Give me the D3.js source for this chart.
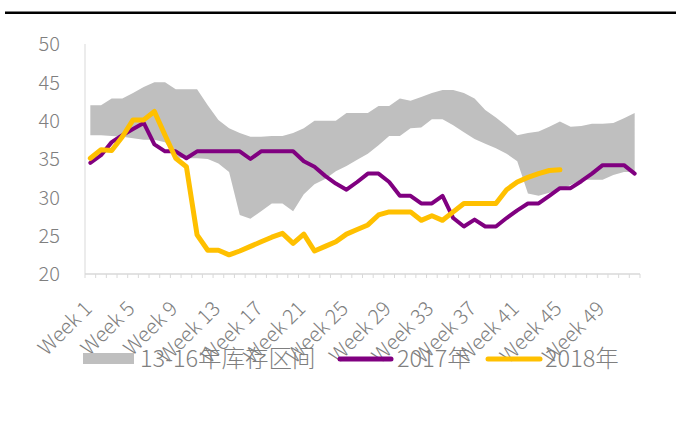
<!DOCTYPE html>
<html>
<head>
<meta charset="utf-8">
<script src="https://cdn.jsdelivr.net/npm/d3@7"></script>
<style>
  html, body { margin: 0; padding: 0; background: #fff; }
  svg { display: block; }
  text { font-family: "Noto Sans CJK SC", "Noto Sans", sans-serif; fill: #7f7f7f; font-weight: 300; }
</style>
</head>
<body>
<svg id="chart" width="676" height="422"></svg>
<script>
const weeks = ["Week 1","Week 2","Week 3","Week 4","Week 5","Week 6","Week 7","Week 8","Week 9","Week 10",
  "Week 11","Week 12","Week 13","Week 14","Week 15","Week 16","Week 17","Week 18","Week 19","Week 20",
  "Week 21","Week 22","Week 23","Week 24","Week 25","Week 26","Week 27","Week 28","Week 29","Week 30",
  "Week 31","Week 32","Week 33","Week 34","Week 35","Week 36","Week 37","Week 38","Week 39","Week 40",
  "Week 41","Week 42","Week 43","Week 44","Week 45","Week 46","Week 47","Week 48","Week 49","Week 50",
  "Week 51","Week 52"];
const xTickLabels = ["Week 1","Week 5","Week 9","Week 13","Week 17","Week 21","Week 25","Week 29",
  "Week 33","Week 37","Week 41","Week 45","Week 49"];
const yTicks = [20, 25, 30, 35, 40, 45, 50];

// 13-16 range band
const rangeHigh = [42.0,42.0,42.9,42.9,43.6,44.4,45.0,45.0,44.1,44.1,44.1,42.0,40.1,39.0,38.4,37.9,37.9,38.0,38.0,38.4,
  39.0,40.0,40.0,40.0,41.0,41.0,41.0,41.9,41.9,42.9,42.6,43.1,43.6,44.0,44.0,43.6,42.9,41.4,40.4,39.3,
  38.1,38.4,38.6,39.2,39.9,39.2,39.3,39.6,39.6,39.7,40.3,41.0];
const rangeLow = [38.1,38.1,38.0,37.9,37.7,37.5,37.5,37.2,35.2,35.1,35.1,35.0,34.4,33.3,27.7,27.2,28.2,29.2,29.2,28.2,
  30.4,31.7,32.4,33.4,34.1,34.9,35.7,36.8,38.0,38.0,39.0,39.1,40.2,40.2,39.4,38.5,37.6,37.0,36.4,35.7,
  34.7,30.5,30.2,30.6,31.0,31.6,32.3,32.3,32.3,32.9,33.3,33.3];
const series2017 = [34.5,35.5,37.2,38.1,38.9,39.7,36.9,36.0,36.0,35.1,36.0,36.0,36.0,36.0,36.0,35.0,36.0,36.0,36.0,36.0,
  34.7,34.0,32.8,31.8,31.0,32.0,33.1,33.1,32.0,30.2,30.2,29.2,29.2,30.2,27.3,26.2,27.1,26.2,26.2,27.3,
  28.3,29.2,29.2,30.2,31.2,31.2,32.1,33.1,34.2,34.2,34.2,33.1];
const series2018 = [35.1,36.2,36.1,37.9,40.1,40.1,41.2,38.1,35.1,34.0,25.1,23.1,23.1,22.5,23.0,23.6,24.2,24.8,25.3,24.0,
  25.2,23.0,23.6,24.2,25.2,25.8,26.4,27.7,28.1,28.1,28.1,27.0,27.6,27.0,28.1,29.2,29.2,29.2,29.2,31.0,
  32.0,32.6,33.1,33.5,33.6];

const legendNames = ["13-16年库存区间", "2017年", "2018年"];
const colors = { band: "#bfbfbf", s2017: "#800080", s2018: "#ffc000", axis: "#d9d9d9" };

const svg = d3.select("#chart");

// top black rule
svg.append("rect").attr("x", 5).attr("y", 11.5).attr("width", 671).attr("height", 2.5).attr("fill", "#000");

const x = d3.scaleBand().domain(weeks).range([85, 640]).paddingInner(0).paddingOuter(0);
const y = d3.scaleLinear().domain([20, 50]).range([274, 44]);
const cx = w => x(w) + x.bandwidth() / 2;

// band
const bandData = weeks.map((w, i) => ({ w, lo: rangeLow[i], hi: rangeHigh[i] }));
svg.append("path")
  .datum(bandData)
  .attr("fill", colors.band)
  .attr("d", d3.area().x(d => cx(d.w)).y0(d => y(d.lo)).y1(d => y(d.hi)));

// axes
svg.append("line").attr("x1", 85).attr("x2", 85).attr("y1", y(50)).attr("y2", y(20))
  .attr("stroke", colors.axis).attr("stroke-width", 1);
svg.append("line").attr("x1", 85).attr("x2", 640).attr("y1", y(20)).attr("y2", y(20))
  .attr("stroke", colors.axis).attr("stroke-width", 1.5);
const tickXs = weeks.map(w => x(w)).concat([x(weeks[weeks.length - 1]) + x.bandwidth()]);
svg.append("g").selectAll("line").data(tickXs).join("line")
  .attr("x1", d => d).attr("x2", d => d).attr("y1", y(20)).attr("y2", y(20) + 4)
  .attr("stroke", colors.axis).attr("stroke-width", 1);

// y labels
svg.append("g").selectAll("text").data(yTicks).join("text")
  .attr("x", 60).attr("y", d => y(d)).attr("dy", "0.36em")
  .attr("text-anchor", "end").style("font-size", "20px")
  .text(d => d);

// x labels
svg.append("g").selectAll("text").data(xTickLabels).join("text")
  .attr("transform", d => `translate(${cx(d) + 3},${310}) rotate(-45)`)
  .attr("text-anchor", "end").style("font-size", "20.5px")
  .text(d => d);

// lines
const line = d3.line().x(d => cx(d.w)).y(d => y(d.v));
svg.append("path")
  .datum(weeks.map((w, i) => ({ w, v: series2017[i] })))
  .attr("fill", "none").attr("stroke", colors.s2017).attr("stroke-width", 4)
  .attr("stroke-linejoin", "round").attr("stroke-linecap", "round")
  .attr("d", line);
svg.append("path")
  .datum(series2018.map((v, i) => ({ w: weeks[i], v })))
  .attr("fill", "none").attr("stroke", colors.s2018).attr("stroke-width", 5)
  .attr("stroke-linejoin", "round").attr("stroke-linecap", "round")
  .attr("d", line);

// legend
const lg = svg.append("g");
lg.append("rect").attr("x", 83).attr("y", 353).attr("width", 51).attr("height", 11).attr("fill", colors.band);
lg.append("text").attr("x", 140).attr("y", 367).style("font-size", "23.5px").text(legendNames[0]);
lg.append("line").attr("x1", 340).attr("x2", 391).attr("y1", 359).attr("y2", 359)
  .attr("stroke", colors.s2017).attr("stroke-width", 5).attr("stroke-linecap", "round");
lg.append("text").attr("x", 397).attr("y", 367).style("font-size", "23.5px").text(legendNames[1]);
lg.append("line").attr("x1", 488).attr("x2", 540).attr("y1", 359).attr("y2", 359)
  .attr("stroke", colors.s2018).attr("stroke-width", 5).attr("stroke-linecap", "round");
lg.append("text").attr("x", 545).attr("y", 367).style("font-size", "23.5px").text(legendNames[2]);
</script>
</body>
</html>
